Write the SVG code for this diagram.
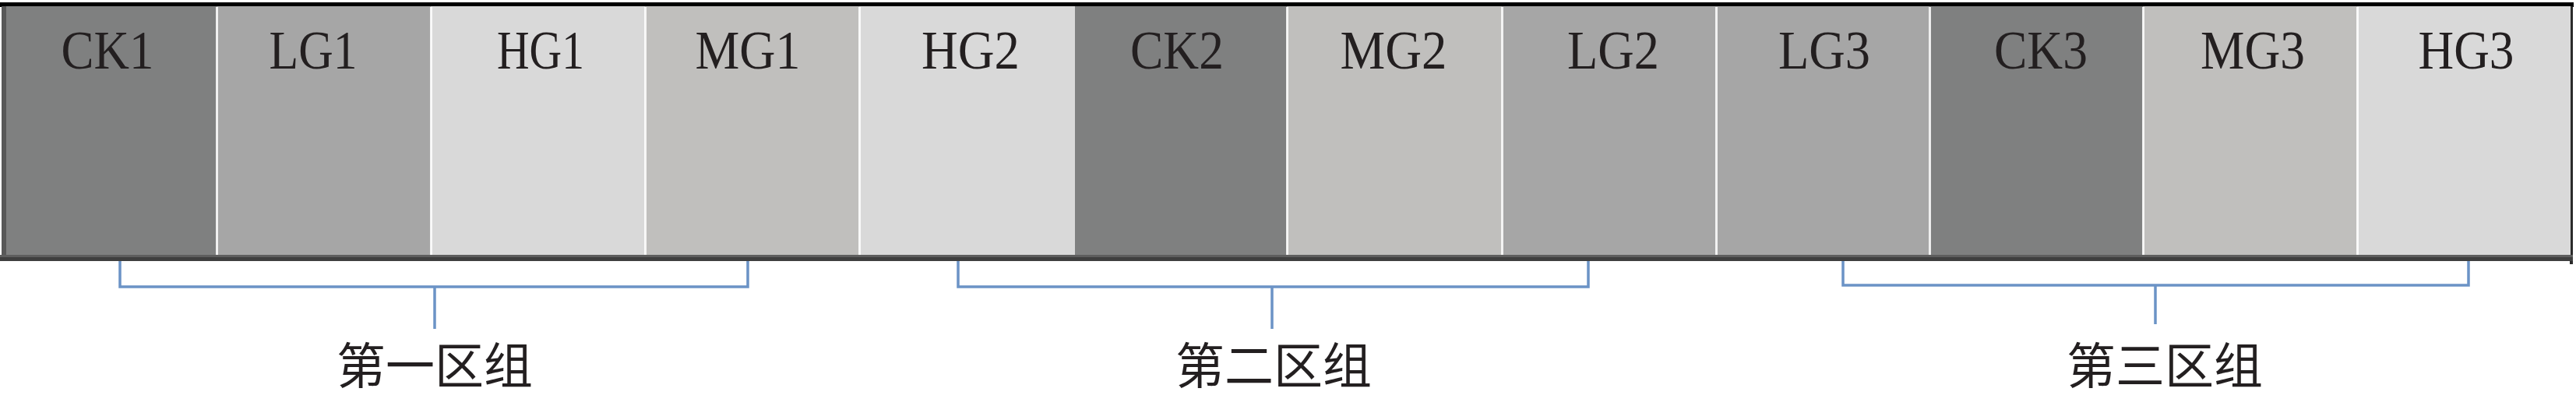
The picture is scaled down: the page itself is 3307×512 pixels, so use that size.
<svg xmlns="http://www.w3.org/2000/svg" width="3307" height="512" viewBox="0 0 3307 512">
<style>
.ck{fill:#7f8080}.lg{fill:#a6a6a6}.hg{fill:#d9d9d9}.mg{fill:#c0bfbd}
.lbl{font-family:"Liberation Serif","Times New Roman",serif;font-size:70px;fill:#231f20;text-anchor:middle}
.grp{font-family:"Noto Sans CJK SC",sans-serif;font-size:63px;font-weight:400;fill:#231f20;text-anchor:middle}
.sep{fill:#ffffff;opacity:0.85}
.br{fill:none;stroke:#6b93c6;stroke-width:3.5}
</style>
<rect x="0" y="0" width="3307" height="512" fill="#ffffff"/>
<g id="frame">
<rect x="0" y="3" width="3304" height="6" fill="#000000"/>
<rect x="2" y="8" width="6" height="327" fill="#585858"/>
<rect x="3299" y="8" width="4" height="331" fill="#2a2a2a"/>
</g>
<g id="cell-CK1"><rect class="ck" x="8" y="8" width="270" height="321"/><text class="lbl" x="138" y="88" textLength="119" lengthAdjust="spacingAndGlyphs">CK1</text></g>
<g id="cell-LG1"><rect class="lg" x="278" y="8" width="275" height="321"/><text class="lbl" x="402" y="88" textLength="113" lengthAdjust="spacingAndGlyphs">LG1</text></g>
<g id="cell-HG1"><rect class="hg" x="553" y="8" width="275" height="321"/><text class="lbl" x="694" y="88" textLength="112" lengthAdjust="spacingAndGlyphs">HG1</text></g>
<g id="cell-MG1"><rect class="mg" x="828" y="8" width="275" height="321"/><text class="lbl" x="960" y="88" textLength="135" lengthAdjust="spacingAndGlyphs">MG1</text></g>
<g id="cell-HG2"><rect class="hg" x="1103" y="8" width="277" height="321"/><text class="lbl" x="1246" y="88" textLength="126" lengthAdjust="spacingAndGlyphs">HG2</text></g>
<g id="cell-CK2"><rect class="ck" x="1380" y="8" width="272" height="321"/><text class="lbl" x="1511" y="88" textLength="120" lengthAdjust="spacingAndGlyphs">CK2</text></g>
<g id="cell-MG2"><rect class="mg" x="1652" y="8" width="276" height="321"/><text class="lbl" x="1789" y="88" textLength="137" lengthAdjust="spacingAndGlyphs">MG2</text></g>
<g id="cell-LG2"><rect class="lg" x="1928" y="8" width="275" height="321"/><text class="lbl" x="2071" y="88" textLength="118" lengthAdjust="spacingAndGlyphs">LG2</text></g>
<g id="cell-LG3"><rect class="lg" x="2203" y="8" width="274" height="321"/><text class="lbl" x="2342" y="88" textLength="118" lengthAdjust="spacingAndGlyphs">LG3</text></g>
<g id="cell-CK3"><rect class="ck" x="2477" y="8" width="274" height="321"/><text class="lbl" x="2620" y="88" textLength="120" lengthAdjust="spacingAndGlyphs">CK3</text></g>
<g id="cell-MG3"><rect class="mg" x="2751" y="8" width="275" height="321"/><text class="lbl" x="2892" y="88" textLength="134" lengthAdjust="spacingAndGlyphs">MG3</text></g>
<g id="cell-HG3"><rect class="hg" x="3026" y="8" width="274" height="321"/><text class="lbl" x="3166" y="88" textLength="123" lengthAdjust="spacingAndGlyphs">HG3</text></g>
<g id="separators">
<rect class="sep" x="277" y="9" width="3" height="319"/>
<rect class="sep" x="552" y="9" width="3" height="319"/>
<rect class="sep" x="827" y="9" width="3" height="319"/>
<rect class="sep" x="1102" y="9" width="3" height="319"/>
<rect class="sep" x="1651" y="9" width="3" height="319"/>
<rect class="sep" x="1927" y="9" width="3" height="319"/>
<rect class="sep" x="2202" y="9" width="3" height="319"/>
<rect class="sep" x="2476" y="9" width="3" height="319"/>
<rect class="sep" x="2750" y="9" width="3" height="319"/>
<rect class="sep" x="3025" y="9" width="3" height="319"/>
</g>
<g id="bottom-border">
<rect x="0" y="327" width="3303" height="3" fill="#5e5e5e"/>
<rect x="0" y="330" width="3303" height="5" fill="#3f3f3f"/>
</g>
<g id="connectors">
<path class="br" d="M154,335 V368 H960 V335"/>
<path class="br" d="M558,368 V422"/>
<path class="br" d="M1230,335 V368 H2039 V335"/>
<path class="br" d="M1633,368 V422"/>
<path class="br" d="M2366,335 V366 H3169 V335"/>
<path class="br" d="M2767,366 V416"/>
</g>
<g id="group-1"><text class="grp" x="558" y="492">第一区组</text></g>
<g id="group-2"><text class="grp" x="1635" y="492">第二区组</text></g>
<g id="group-3"><text class="grp" x="2779" y="492">第三区组</text></g>
</svg>
